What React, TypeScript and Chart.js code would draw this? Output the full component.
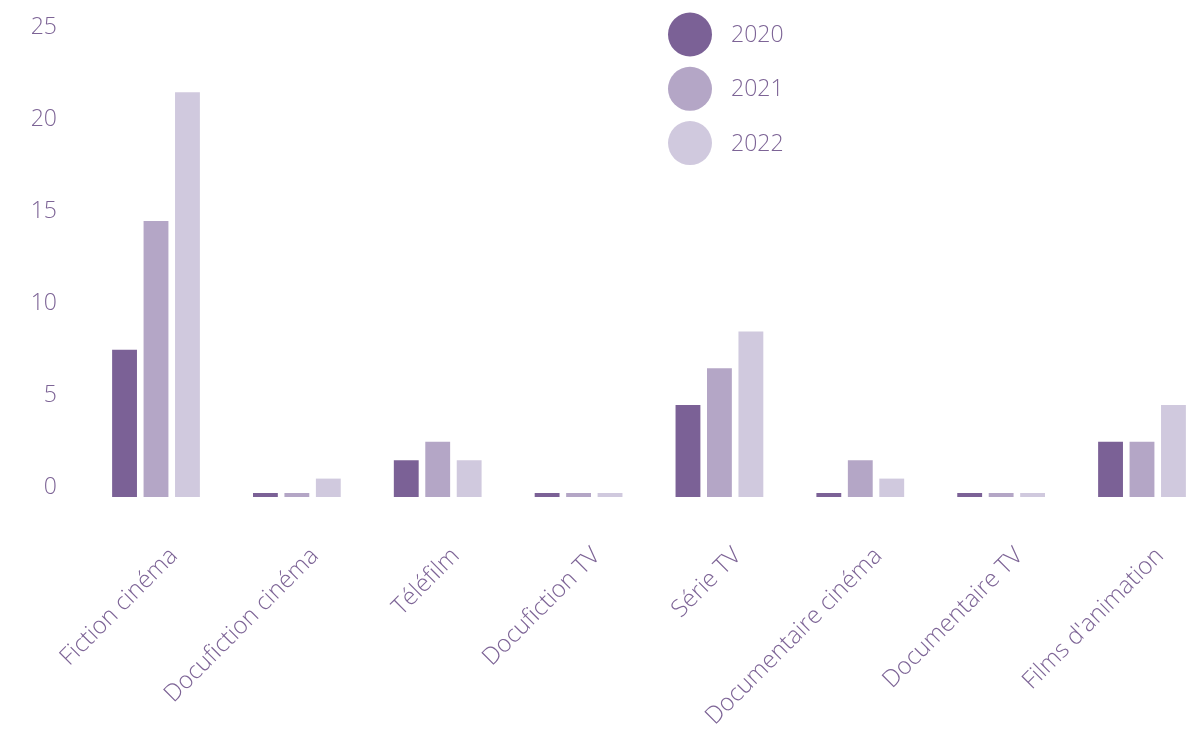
import { useEffect, useRef } from "react";
import { Chart, registerables } from "chart.js";

Chart.register(...registerables);

const categories = [
  "Fiction cinéma",
  "Docufiction cinéma",
  "Téléfilm",
  "Docufiction TV",
  "Série TV",
  "Documentaire cinéma",
  "Documentaire TV",
  "Films d'animation",
];
const years = ["2020", "2021", "2022"];
const values2020 = [8, 0, 2, 0, 5, 0, 0, 3];
const values2021 = [15, 0, 3, 0, 7, 2, 0, 3];
const values2022 = [22, 1, 2, 0, 9, 1, 0, 5];
const colors = ["#7b6196", "#b4a6c6", "#d0c9de"];

const textColor = "#7d6496";
const fontFamily = "'Open Sans', Lato, sans-serif";

// legend drawn as a vertical list of big dots, top right of the plot
const dotLegend = {
  id: "dotLegend",
  afterDraw(chart: Chart) {
    const ctx = chart.ctx;
    ctx.save();
    ctx.font = `300 23px ${fontFamily}`;
    ctx.textBaseline = "middle";
    ctx.textAlign = "left";
    chart.data.datasets.forEach((ds, i) => {
      const cy = 34.5 + i * 54.3;
      ctx.beginPath();
      ctx.arc(690, cy, 22, 0, Math.PI * 2);
      ctx.fillStyle = ds.backgroundColor as string;
      ctx.fill();
      ctx.fillStyle = textColor;
      ctx.fillText(String(ds.label), 731, cy + 1);
    });
    ctx.restore();
  },
};

export default function App() {
  const canvasRef = useRef<HTMLCanvasElement | null>(null);
  const chartRef = useRef<Chart | null>(null);

  useEffect(() => {
    if (!canvasRef.current) return;
    chartRef.current?.destroy();

    const series = [values2020, values2021, values2022];
    chartRef.current = new Chart(canvasRef.current, {
      type: "bar",
      data: {
        labels: categories,
        datasets: years.map((y, i) => ({
          label: y,
          data: series[i],
          backgroundColor: colors[i],
          borderWidth: 0,
          minBarLength: 4,
          clip: false as any,
        })),
      },
      options: {
        responsive: true,
        maintainAspectRatio: false,
        animation: false,
        categoryPercentage: 0.67,
        barPercentage: 0.79,
        layout: { padding: { top: 37, right: 53, left: 0, bottom: 0 } },
        plugins: {
          legend: { display: false },
          tooltip: { enabled: false },
        },
        scales: {
          x: {
            offset: false,
            grid: { display: false, drawTicks: false },
            border: { display: false },
            ticks: {
              color: textColor,
              font: { family: fontFamily, size: 24, weight: 300 as any },
              minRotation: 45,
              maxRotation: 45,
              padding: 45,
              labelOffset: 18,
              autoSkip: false,
            },
            afterFit: (scale: any) => {
              scale.height = 234;
              scale.paddingLeft = 0;
              scale.paddingRight = 0;
            },
          },
          y: {
            min: 0,
            max: 25,
            grid: { display: false, drawTicks: false },
            border: { display: false },
            ticks: {
              stepSize: 5,
              color: textColor,
              font: { family: fontFamily, size: 23, weight: 300 as any },
              padding: 99,
              labelOffset: -10,
            },
            afterFit: (scale: any) => {
              // wide empty gutter between the tick labels and the first bars
              scale.width = 156;
              scale.paddingTop = 12;
              scale.paddingBottom = 12;
            },
          },
        },
      },
      plugins: [dotLegend],
    });

    return () => {
      chartRef.current?.destroy();
      chartRef.current = null;
    };
  }, []);

  return (
    <div style={{ position: "fixed", left: 0, top: 0, width: 1195, height: 731, background: "#fff" }}>
      <canvas ref={canvasRef}></canvas>
    </div>
  );
}
